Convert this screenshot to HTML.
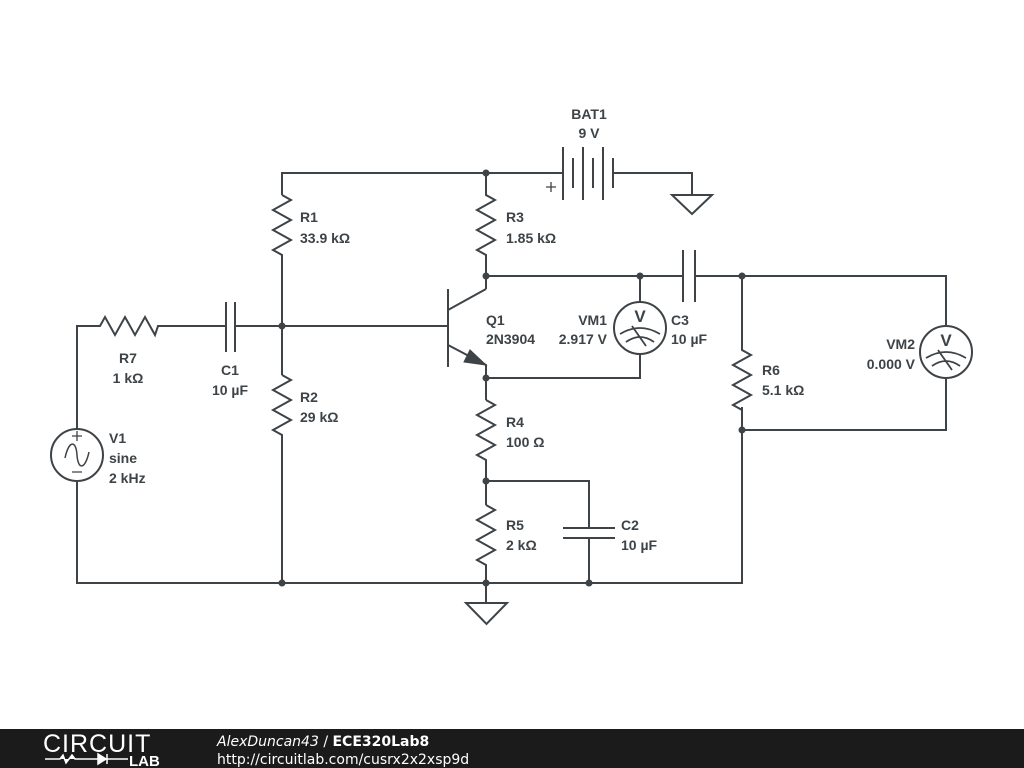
<!DOCTYPE html>
<html><head><meta charset="utf-8"><style>
html,body{margin:0;padding:0;width:1024px;height:768px;background:#fff;overflow:hidden}
svg{display:block}
text{font-family:"Liberation Sans",sans-serif;font-weight:bold;font-size:14px;fill:#3d4347}
</style></head><body>
<svg width="1024" height="768" viewBox="0 0 1024 768">
<defs>
<g id="vm"><circle cx="0" cy="0" r="26" fill="#fff" stroke="#3d4347" stroke-width="2"/>
<path d="M-20 6 Q0 -6 20 6 M-14 14 Q0 4 14 14 M-8 -2 L6 18" fill="none" stroke="#3d4347" stroke-width="1.8"/>
<text x="0" y="-6" text-anchor="middle" style="font-size:17px">V</text></g>
</defs>
<g fill="none" stroke="#3d4347" stroke-width="2">
<path d="M282 195 V173 H563"/>
<path d="M563 147 V200 M583 147 V200 M603 147 V200"/>
<path d="M573 158 V188 M593 158 V188 M613 158 V188"/>
<path d="M613 173 H692 V195 M672 195 H712 L692 214 Z"/>
<path d="M546 187 h10 M551 182 v10" stroke-width="1.3"/>
<path d="M282 195 l9 5 l-18 10 l18 10 l-18 10 l18 10 l-18 10 l9 5 V375"/>
<path d="M282 375 l9 5 l-18 10 l18 10 l-18 10 l18 10 l-18 10 l9 5 V583"/>
<path d="M486 173 V195 l9 5 l-18 10 l18 10 l-18 10 l18 10 l-18 10 l9 5 V289"/>
<path d="M486 276 H683 M683 250 V302 M695 250 V302 M695 276 H946 V326"/>
<path d="M640 276 V302 M640 354 V378 H486"/>
<path d="M448 289 V367 M282 326 H448 M448 310 L486 289 M448 345 L486 365 V400"/>
<path d="M486 365 L470 350 L464 362 Z" fill="#3d4347" stroke-width="1"/>
<path d="M486 400 l9 5 l-18 10 l18 10 l-18 10 l18 10 l-18 10 l9 5 V505"/>
<path d="M486 505 l9 5 l-18 10 l18 10 l-18 10 l18 10 l-18 10 l9 5 V603"/>
<path d="M466 603 H507 L486.5 624 Z"/>
<path d="M486 481 H589 V528 M563 528 H615 M563 538 H615 M589 538 V583"/>
<path d="M77 482 V583 H742 V407"/>
<path d="M742 276 V350 l9 5 l-18 10 l18 10 l-18 10 l18 10 l-18 10 l9 5 V430 H946 V378"/>
<path d="M77 429 V326 H100 l5 -9 l10 18 l10 -18 l10 18 l10 -18 l10 18 l3 -9 H226 M226 302 V352 M235 302 V352 M235 326 H282"/>
<circle cx="77" cy="455" r="26"/>
<path d="M65 458 C69 440 76 440 77 455 C78 470 85 470 89 452" stroke-width="1.5"/>
<path d="M72 436 h10 M77 431 v10 M72 472 h10" stroke-width="1.3"/>
</g>
<g fill="#3d4347">
<circle cx="486" cy="173" r="3.5"/><circle cx="282" cy="326" r="3.5"/><circle cx="486" cy="276" r="3.5"/>
<circle cx="640" cy="276" r="3.5"/><circle cx="742" cy="276" r="3.5"/><circle cx="486" cy="378" r="3.5"/>
<circle cx="486" cy="481" r="3.5"/><circle cx="742" cy="430" r="3.5"/><circle cx="282" cy="583" r="3.5"/>
<circle cx="486" cy="583" r="3.5"/><circle cx="589" cy="583" r="3.5"/>
</g>
<use href="#vm" x="640" y="328"/>
<use href="#vm" x="946" y="352"/>
<text x="589" y="119" text-anchor="middle">BAT1</text><text x="589" y="138" text-anchor="middle">9 V</text>
<text x="300" y="222">R1</text><text x="300" y="243">33.9 kΩ</text>
<text x="506" y="222">R3</text><text x="506" y="243">1.85 kΩ</text>
<text x="486" y="325">Q1</text><text x="486" y="344">2N3904</text>
<text x="607" y="325" text-anchor="end">VM1</text><text x="607" y="344" text-anchor="end">2.917 V</text>
<text x="671" y="325">C3</text><text x="671" y="344">10 µF</text>
<text x="915" y="349" text-anchor="end">VM2</text><text x="915" y="369" text-anchor="end">0.000 V</text>
<text x="762" y="375">R6</text><text x="762" y="395">5.1 kΩ</text>
<text x="128" y="363" text-anchor="middle">R7</text><text x="128" y="383" text-anchor="middle">1 kΩ</text>
<text x="230" y="375" text-anchor="middle">C1</text><text x="230" y="395" text-anchor="middle">10 µF</text>
<text x="300" y="402">R2</text><text x="300" y="422">29 kΩ</text>
<text x="109" y="443">V1</text><text x="109" y="463">sine</text><text x="109" y="483">2 kHz</text>
<text x="506" y="427">R4</text><text x="506" y="447">100 Ω</text>
<text x="506" y="530">R5</text><text x="506" y="550">2 kΩ</text>
<text x="621" y="530">C2</text><text x="621" y="550">10 µF</text>
<rect x="0" y="729" width="1024" height="39" fill="#1b1b1b"/>
<text x="43" y="752" style="font-weight:normal;font-size:25px;fill:#fff;letter-spacing:1px">CIRCUIT</text>
<path d="M45 759 H60 l3 -4 l3 8 l3 -4 l3 -4 l3 4 H98 M98 754 V764 L106 759 Z M107 754 v10 M107 759 H128" stroke="#fff" stroke-width="1.5" fill="#fff"/>
<text x="129" y="766" style="font-size:15px;fill:#fff;font-weight:900">LAB</text>
<text x="217" y="746" style="font-family:'DejaVu Sans',sans-serif;font-weight:normal;font-style:italic;font-size:14px;fill:#fff">AlexDuncan43 <tspan style="font-style:normal">/</tspan> <tspan style="font-style:normal;font-weight:bold">ECE320Lab8</tspan></text>
<text x="217" y="764" style="font-family:'DejaVu Sans',sans-serif;font-weight:normal;font-size:14px;fill:#fff">http://circuitlab.com/cusrx2x2xsp9d</text>
</svg>
</body></html>
